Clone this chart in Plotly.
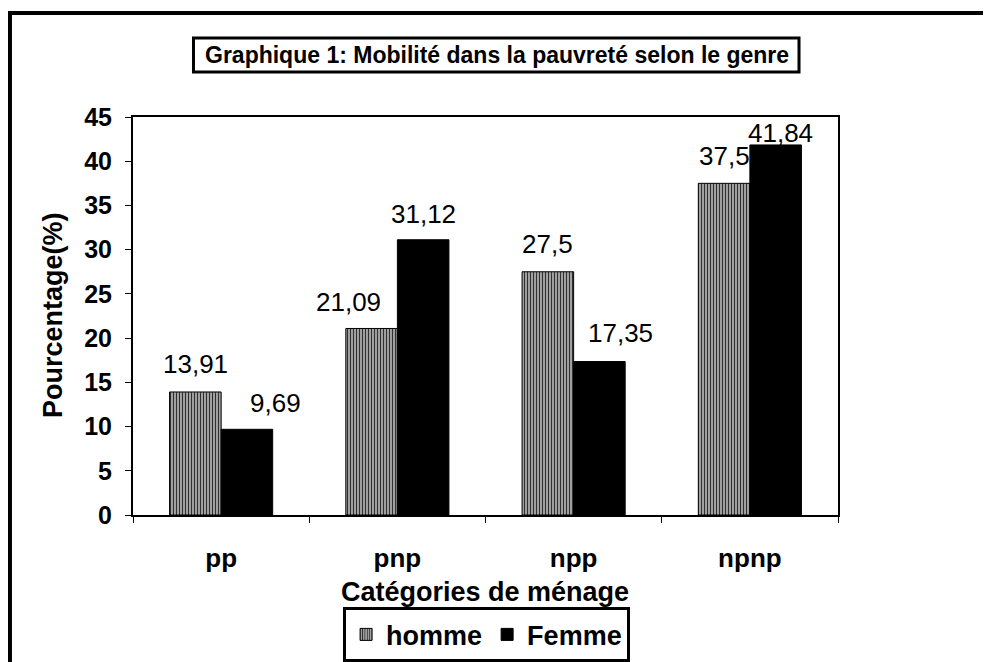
import plotly.graph_objects as go

categories = ["pp", "pnp", "npp", "npnp"]
homme = [13.91, 21.09, 27.5, 37.5]
femme = [9.69, 31.12, 17.35, 41.84]
homme_labels = ["13,91", "21,09", "27,5", "37,5"]
femme_labels = ["9,69", "31,12", "17,35", "41,84"]
y_ticks = [0, 5, 10, 15, 20, 25, 30, 35, 40, 45]

# label placement offsets (pixels): (dx, dy) relative to bar centre / bar top
homme_off = [(0, 28), (-23, 26), (0, 28), (0, 27)]
femme_off = [(29, 26), (0, 26), (21, 29), (5, 12)]

FONT = "Liberation Sans, Arial, sans-serif"
BAR_HALF = 25.8

fig = go.Figure()
fig.add_trace(go.Bar(
    name="homme", x=categories, y=homme,
    marker=dict(color="#b0b0b0", line=dict(color="black", width=1),
                pattern=dict(shape="|", fgcolor="#303030", bgcolor="#c4c4c4",
                             size=3, solidity=0.5, fillmode="replace")),
))
fig.add_trace(go.Bar(
    name="Femme", x=categories, y=femme,
    marker=dict(color="black", line=dict(color="black", width=1)),
))

annotations = []
for i, c in enumerate(categories):
    dx, dy = homme_off[i]
    annotations.append(dict(x=c, y=homme[i], xref="x", yref="y", text=homme_labels[i],
                            showarrow=False, xshift=-BAR_HALF + dx, yshift=dy,
                            yanchor="middle", font=dict(size=26, color="black", family=FONT)))
    dx, dy = femme_off[i]
    annotations.append(dict(x=c, y=femme[i], xref="x", yref="y", text=femme_labels[i],
                            showarrow=False, xshift=BAR_HALF + dx, yshift=dy,
                            yanchor="middle", font=dict(size=26, color="black", family=FONT)))

annotations.append(dict(x=0.516, y=1.156, xref="paper", yref="paper",
                        text="Graphique 1: Mobilité dans la pauvreté selon le genre",
                        showarrow=False, xanchor="center", yanchor="middle",
                        font=dict(size=23, color="black", family=FONT, weight="bold")))
annotations.append(dict(x=-0.1135, y=0.5025, xref="paper", yref="paper",
                        text="Pourcentage(%)", textangle=-90,
                        showarrow=False, xanchor="center", yanchor="middle",
                        font=dict(size=27, color="black", family=FONT, weight="bold")))
annotations.append(dict(x=0.499, y=-0.1935, xref="paper", yref="paper",
                        text="Catégories de ménage",
                        showarrow=False, xanchor="center", yanchor="middle",
                        font=dict(size=27, color="black", family=FONT, weight="bold")))

shapes = [
    # outer frame
    dict(type="rect", xref="paper", yref="paper", x0=-0.1745, x1=1.24, y0=-0.40, y1=1.261,
         line=dict(color="black", width=4), fillcolor="rgba(0,0,0,0)", layer="below"),
    # title box
    dict(type="rect", xref="paper", yref="paper", x0=0.0858, x1=0.9447, y0=1.113, y1=1.1985,
         line=dict(color="black", width=3), fillcolor="rgba(0,0,0,0)"),
]

fig.update_layout(
    width=983, height=654,
    margin=dict(l=125, r=153, t=109, b=147, pad=0, autoexpand=False),
    paper_bgcolor="white", plot_bgcolor="white",
    barmode="group", bargap=0.415, bargroupgap=0,
    font=dict(family=FONT, color="black"),
    showlegend=True,
    legend=dict(orientation="h", x=0.298, y=-0.232, xanchor="left", yanchor="top",
                bordercolor="black", borderwidth=3, bgcolor="white",
                font=dict(size=27, family=FONT, color="black", weight="bold"),
                itemwidth=30, tracegroupgap=0),
    annotations=annotations,
    shapes=shapes,
    xaxis=dict(showline=True, linecolor="black", linewidth=2, mirror=True,
               ticks="outside", ticklen=6, tickcolor="black", tickwidth=1,
               tickson="boundaries", ticklabelstandoff=19,
               tickfont=dict(size=26, family=FONT, color="black", weight="bold"),
               showgrid=False),
    yaxis=dict(range=[0, 45], tickvals=y_ticks, showline=True, linecolor="black", linewidth=2,
               mirror=True, ticks="outside", ticklen=6, tickcolor="black", tickwidth=1,
               ticklabelstandoff=8,
               tickfont=dict(size=25, family=FONT, color="black", weight="bold"),
               showgrid=False, zeroline=False),
)

fig.write_html("out.html")
